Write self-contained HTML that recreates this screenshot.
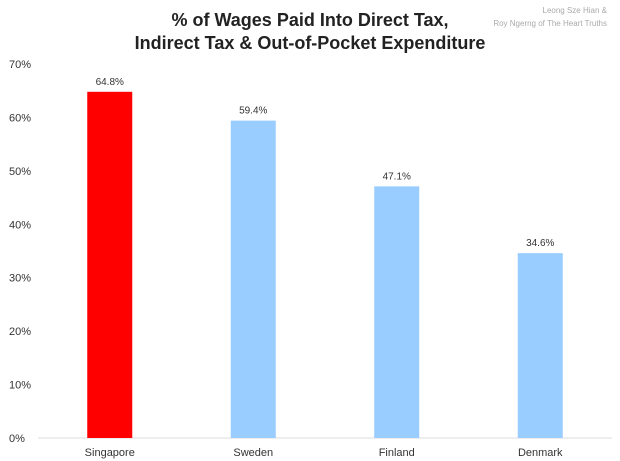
<!DOCTYPE html>
<html><head><meta charset="utf-8"><style>
body{margin:0;background:#fff;}
svg{display:block;font-family:"Liberation Sans",sans-serif;}
</style></head><body>
<svg id="chart" width="620" height="461" viewBox="0 0 620 461">
<rect x="0" y="0" width="620" height="461" fill="#fff"/>
<text x="310" y="26" text-anchor="middle" font-size="18" font-weight="bold" fill="#222">% of Wages Paid Into Direct Tax,</text>
<text x="310" y="49" text-anchor="middle" font-size="18" font-weight="bold" fill="#222">Indirect Tax &amp; Out-of-Pocket Expenditure</text>
<text x="607" y="13" text-anchor="end" font-size="8" fill="#aaa">Leong Sze Hian &amp;</text>
<text x="607" y="26" text-anchor="end" font-size="8" fill="#aaa">Roy Ngerng of The Heart Truths</text>
<line x1="38" y1="438" x2="612" y2="438" stroke="#ddd" stroke-width="1"/>
<g id="yticks"></g><g id="bars"></g>
</svg>
<script>
const categories=["Singapore","Sweden","Finland","Denmark"];
const values=[64.8,59.4,47.1,34.6];
const valueLabels=["64.8%","59.4%","47.1%","34.6%"];
const colors=["#ff0000","#99ccff","#99ccff","#99ccff"];
const yTicks=[0,10,20,30,40,50,60,70];
const NS="http://www.w3.org/2000/svg";
const y0=438,yTop=64,left=38,right=612;
function yScale(v){return y0-(v/70)*(y0-yTop);}
function xCenter(i){const w=(right-left)/categories.length;return left+w*(i+0.5);}
const yt=document.getElementById('yticks');
yTicks.forEach(t=>{
 const tx=document.createElementNS(NS,'text');
 
 
 tx.setAttribute('x',9);tx.setAttribute('y',yScale(t)+4);
 tx.setAttribute('font-size','11');tx.setAttribute('fill','#333');
 tx.textContent=t+'%';yt.appendChild(tx);
});
const bg=document.getElementById('bars');
categories.forEach((c,i)=>{
 const cx=xCenter(i),bw=45,top=yScale(values[i]);
 const r=document.createElementNS(NS,'rect');
 
 
 r.setAttribute('x',cx-bw/2);r.setAttribute('y',top);
 r.setAttribute('width',bw);r.setAttribute('height',y0-top);
 r.setAttribute('fill',colors[i]);bg.appendChild(r);
 const v=document.createElementNS(NS,'text');
 
 
 v.setAttribute('x',cx);v.setAttribute('y',top-7);
 v.setAttribute('text-anchor','middle');v.setAttribute('font-size','10');v.setAttribute('fill','#333');
 v.textContent=valueLabels[i];bg.appendChild(v);
 const l=document.createElementNS(NS,'text');
 
 
 l.setAttribute('x',cx);l.setAttribute('y',456);
 l.setAttribute('text-anchor','middle');l.setAttribute('font-size','11');l.setAttribute('fill','#333');
 l.textContent=c;bg.appendChild(l);
});
</script>
</body></html>
